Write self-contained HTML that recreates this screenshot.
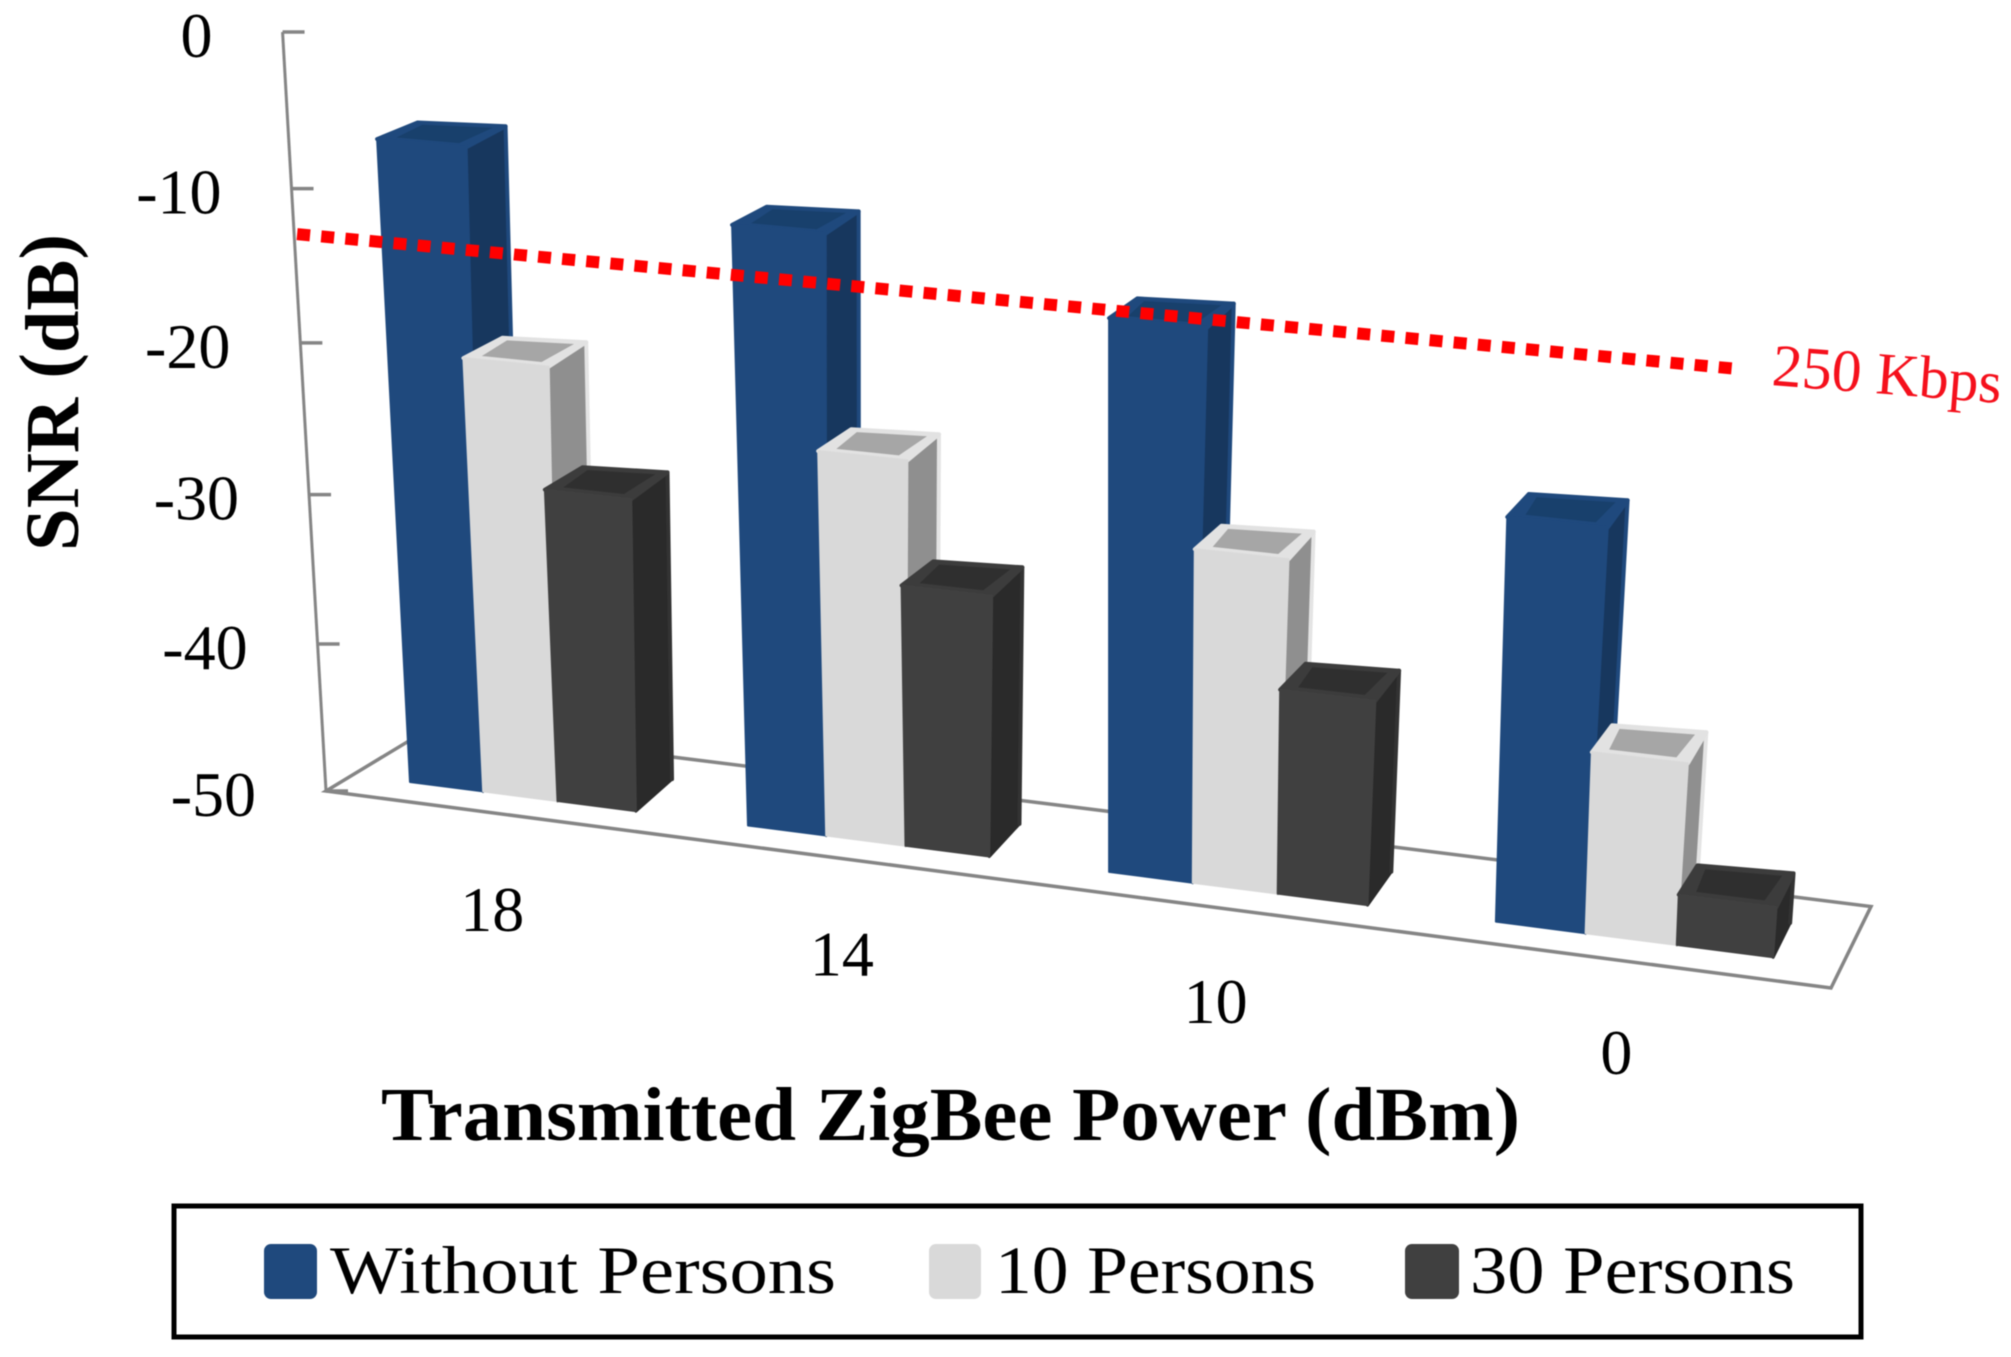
<!DOCTYPE html>
<html lang="en">
<head>
<meta charset="utf-8">
<title>SNR vs Transmitted ZigBee Power</title>
<style>
html,body{margin:0;padding:0;background:#fff;}
svg{display:block;filter:blur(0.6px);}
text{font-family:"Liberation Serif",serif;}
</style>
</head>
<body>
<svg id="chart" xmlns="http://www.w3.org/2000/svg" width="2011" height="1357" viewBox="0 0 2011 1357">
  <rect x="0" y="0" width="2011" height="1357" fill="#ffffff"/>
  <g id="axes"></g>
  <g id="bars"></g>
  <g id="threshold"></g>
  <g id="labels"></g>

  <text x="1771" y="385" transform="rotate(4.5 1771 385)" font-size="60" fill="#f5101c" textLength="230" lengthAdjust="spacingAndGlyphs">250 Kbps</text>
  <text transform="translate(78 551) rotate(-90)" font-size="76" font-weight="bold" fill="#000" textLength="317" lengthAdjust="spacingAndGlyphs">SNR <tspan dy="-6">(</tspan><tspan dy="6">dB</tspan><tspan dy="-6">)</tspan></text>
  <text x="381" y="1140" font-size="76" font-weight="bold" fill="#000" textLength="1139" lengthAdjust="spacingAndGlyphs">Transmitted ZigBee Power (dBm)</text>

  <g>
    <rect x="174" y="1206" width="1687" height="131" fill="#fff" stroke="#000" stroke-width="5"/>
    <rect x="264" y="1244" width="53" height="55" rx="7" fill="#1f497d"/>
    <text x="330" y="1293" font-size="68" fill="#000" textLength="506" lengthAdjust="spacingAndGlyphs">Without Persons</text>
    <rect x="929" y="1244" width="52" height="55" rx="7" fill="#d9d9d9"/>
    <text x="995" y="1293" font-size="68" fill="#000" textLength="321" lengthAdjust="spacingAndGlyphs">10 Persons</text>
    <rect x="1405" y="1244" width="54" height="55" rx="7" fill="#404040"/>
    <text x="1470" y="1293" font-size="68" fill="#000" textLength="325" lengthAdjust="spacingAndGlyphs">30 Persons</text>
  </g>
</svg>
<script>
// ---- chart data ----
const categories = ['18', '14', '10', '0'];
const withoutPersons = [-7.5, -10.6, -13.95, -23.75];
const tenPersons = [-21.1, -24.55, -28.1, -38.15];
const thirtyPersons = [-29.15, -32.7, -36.55, -46.7];
const yTicks = [0, -10, -20, -30, -40, -50];
const thresholdDb = [-14.2, -12.9];

// ---- projection of the 3D scene ----
const NS = 'http://www.w3.org/2000/svg';
const Y_MIN = -50, Y_MAX = 0;
const X0 = 410, PA = 72.7, PB = 0.007126;
const BASE_Y0 = 782, BASE_SLOPE = 0.1286;
const AXIS_X = 326, AXIS_Y = 791, HEIGHT = 759;
const LEAN = 7.3e-5, LEAN_X = 1110;
const VDX = 2786, VDY = -1090, DEPTH = 0.0168;
const PERIOD = 4.5;
const FLARE = 0.02;
const BACK_LEFT_DROP = 4;
const THRESHOLD_U0 = -1.14, THRESHOLD_U1 = 15.93;

function xSlot(u) { return X0 + PA * u / (1 - PB * u); }
function baseY(x) { return BASE_Y0 + (x - X0) * BASE_SLOPE; }
function heightFraction(v) {
  const h = (v - Y_MIN) / (Y_MAX - Y_MIN);
  return h * (0.96 + 0.04 * h);
}
function lift(x, y, v, scale) {
  const H = scale * heightFraction(v);
  return { x: x + (x - LEAN_X) * LEAN * H, y: y - H };
}
function project(u, v) {
  const x = xSlot(u);
  return lift(x, baseY(x), v, HEIGHT * (1 + 3e-5 * (x - AXIS_X)));
}
function yAxisPoint(v) { return lift(AXIS_X, AXIS_Y, v, HEIGHT); }
function back(p) { return { x: p.x + (VDX - p.x) * DEPTH, y: p.y + (VDY - p.y) * DEPTH }; }
function mix(p, q, t) { return { x: p.x + (q.x - p.x) * t, y: p.y + (q.y - p.y) * t }; }
function pts(list) { return list.map(p => p.x.toFixed(1) + ',' + p.y.toFixed(1)).join(' '); }

function mk(parent, tag, attrs, text) {
  const el = document.createElementNS(NS, tag);
  for (const k in attrs) el.setAttribute(k, attrs[k]);
  if (text !== undefined) el.textContent = text;
  parent.appendChild(el);
  return el;
}

// ---- floor and value axis ----
const axesG = document.getElementById('axes');
const floorCorners = [{x:326,y:791},{x:1831,y:988},{x:1871,y:906.5},{x:432,y:727}];
const floorEl = mk(axesG, 'polygon', { points: pts(floorCorners), fill: 'none', stroke: '#858585', 'stroke-width': 3.5 });



const yTop = yAxisPoint(Y_MAX), yBottom = yAxisPoint(Y_MIN);
const yLine = mk(axesG, 'line', { x1: yTop.x, y1: yTop.y, x2: yBottom.x, y2: yBottom.y, stroke: '#858585', 'stroke-width': 3 });



const labelsG = document.getElementById('labels');
yTicks.forEach(function (t) {
  const p = yAxisPoint(t);
  const tick = mk(axesG, 'line', { x1: p.x, y1: p.y, x2: p.x + 22, y2: p.y, stroke: '#858585', 'stroke-width': 3.5 });
  
  
  const lab = mk(labelsG, 'text', { x: p.x - 70, y: p.y + 25, 'text-anchor': 'end', 'font-size': 64, fill: '#000' }, String(t));
  
  
});

categories.forEach(function (c, i) {
  const x = xSlot(i * PERIOD + 1.5);
  const lab = mk(labelsG, 'text', { x: x - 28 + (x - 520) * 0.012, y: baseY(x) + 135, 'text-anchor': 'middle', 'font-size': 64, fill: '#000' }, c);
  
  
});

// ---- bars ----
const seriesStyle = [
  { key: 'without-persons', front: '#1f497d', side: '#17375e', rim: '#1f497d', top: '#1f497d', inner: '#18406c', width: 1 },
  { key: '10-persons', front: '#d9d9d9', side: '#8f8f8f', rim: '#e4e4e4', top: '#e2e2e2', inner: '#a6a6a6', width: 1 },
  { key: '30-persons', front: '#404040', side: '#2a2a2a', rim: '#333333', top: '#3c3c3c', inner: '#2f2f2f', width: 1.04 }
];
const seriesValues = [withoutPersons, tenPersons, thirtyPersons];
const barsG = document.getElementById('bars');

categories.forEach(function (c, i) {
  seriesValues.forEach(function (values, s) {
    const st = seriesStyle[s];
    const u = i * PERIOD + s;
    const v = values[i];
    const bl = project(u, Y_MIN), br = project(u + st.width, Y_MIN);
    const tl = project(u, v), tr = project(u + st.width, v);
    tr.x += FLARE * (bl.y - tl.y);
    const tlb = back(tl), trb = back(tr), brb = back(br);
    tlb.y += BACK_LEFT_DROP;
    const cen = { x: (tl.x + tr.x + tlb.x + trb.x) / 4, y: (tl.y + tr.y + tlb.y + trb.y) / 4 };

    const g = mk(barsG, 'g', {});
    
    

    const side = mk(g, 'polygon', { points: pts([br, tr, trb, brb]), fill: st.side, stroke: st.side, 'stroke-width': 3, 'stroke-linejoin': 'round' });
    
    

    const rim = mk(g, 'line', { x1: trb.x, y1: trb.y, x2: brb.x, y2: brb.y, stroke: st.rim, 'stroke-width': 4, 'stroke-linecap': 'round' });
    
    

    const top = mk(g, 'polygon', { points: pts([tl, tr, trb, tlb]), fill: st.top, stroke: st.top, 'stroke-width': 4, 'stroke-linejoin': 'round' });
    
    

    const inner = mk(g, 'polygon', {
      points: pts([mix(tl, cen, 0.3), mix(tr, cen, 0.3), mix(trb, cen, 0.2), mix(tlb, cen, 0.2)]),
      fill: st.inner
    });
    
    

    const front = mk(g, 'polygon', { points: pts([bl, br, tr, tl]), fill: st.front, stroke: st.front, 'stroke-width': 2, 'stroke-linejoin': 'round' });
    
    
  });
});

// ---- threshold line ----
const thrG = document.getElementById('threshold');
const t0 = project(THRESHOLD_U0, thresholdDb[0]);
const t1 = project(THRESHOLD_U1, thresholdDb[1]);
const thrLine = mk(thrG, 'line', { x1: t0.x, y1: t0.y, x2: t1.x, y2: t1.y, stroke: '#ff0000', 'stroke-width': 12, 'stroke-dasharray': '13 11.2' });


</script>
</body>
</html>
